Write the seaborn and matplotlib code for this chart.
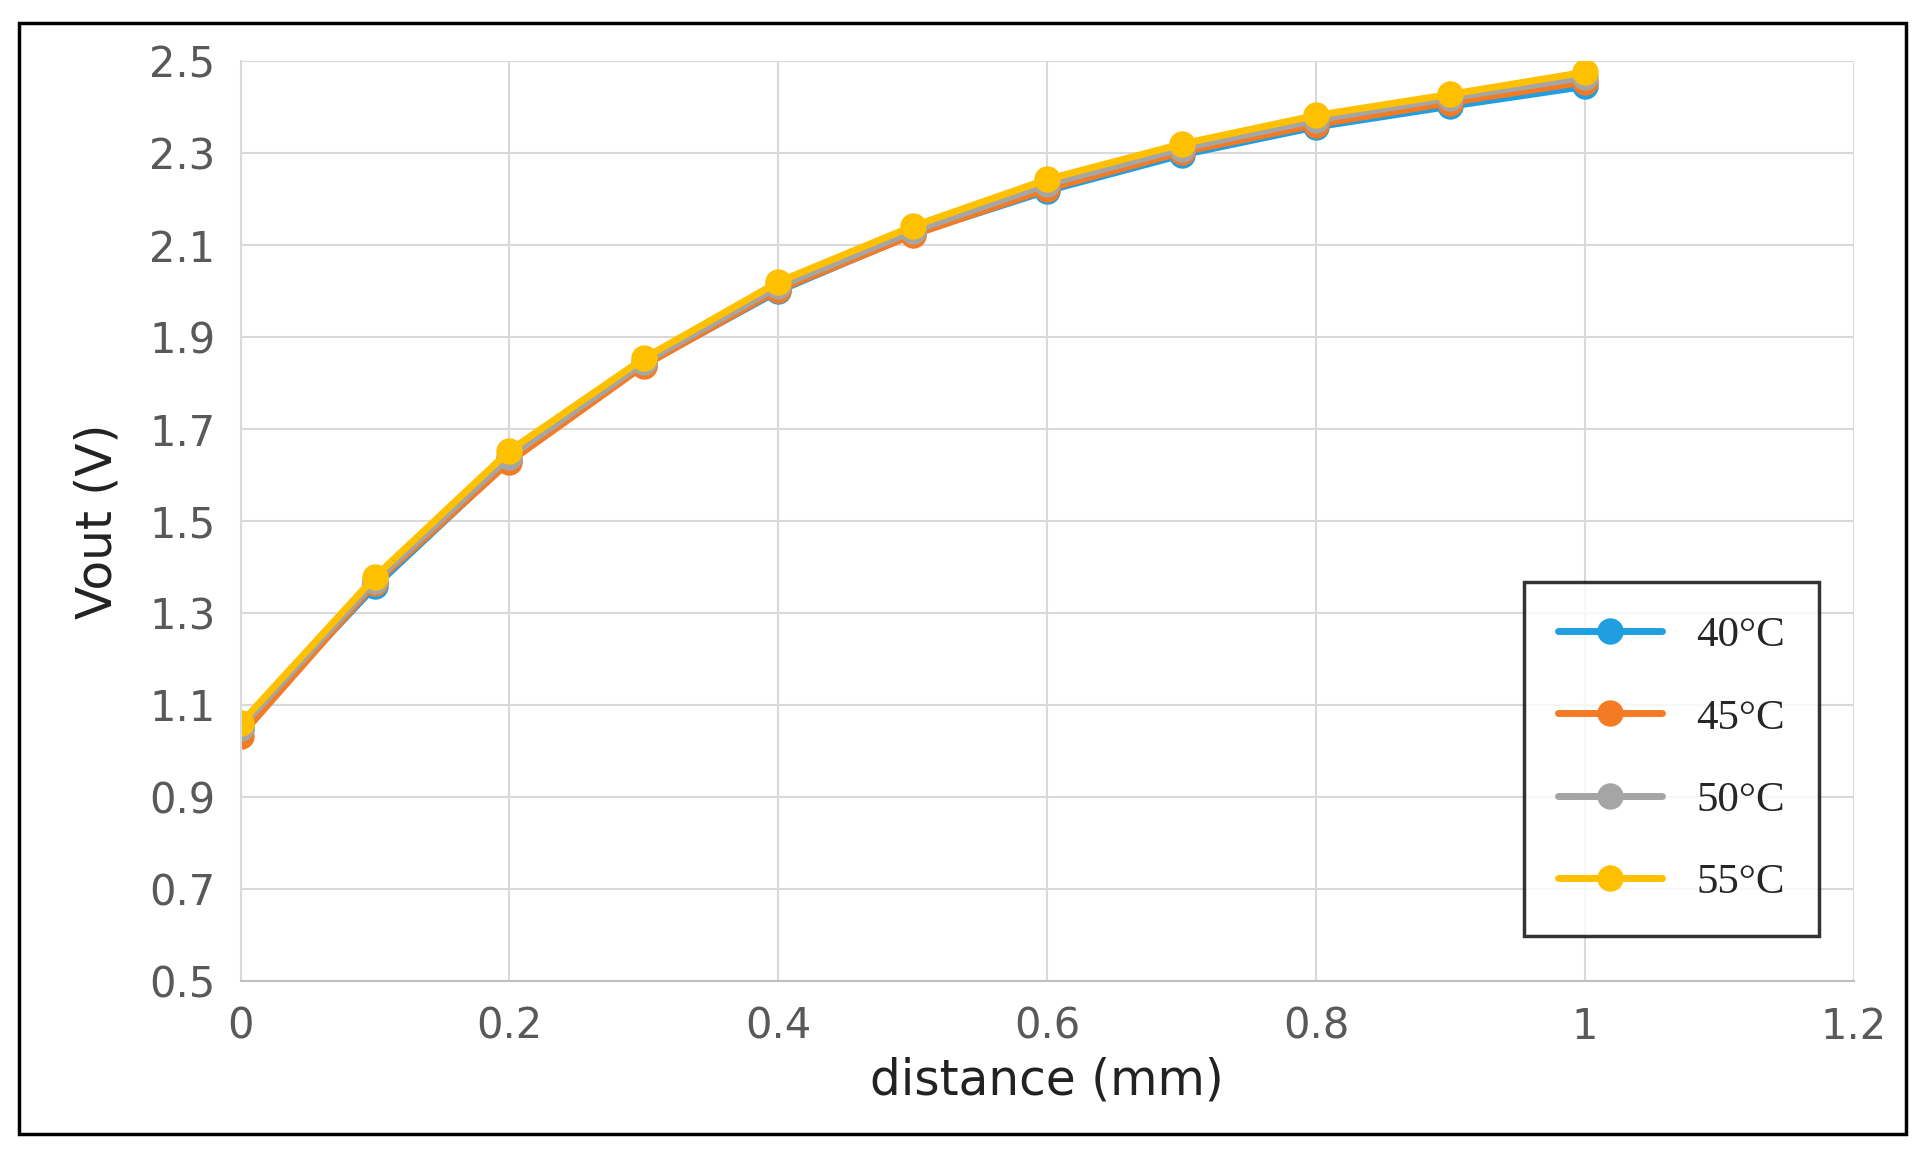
import matplotlib
matplotlib.use("Agg")
import matplotlib.pyplot as plt
import seaborn as sns
import pandas as pd
from matplotlib.patches import Rectangle

distance = [0, 0.1, 0.2, 0.3, 0.4, 0.5, 0.6, 0.7, 0.8, 0.9, 1.0]
v40 = [1.047, 1.358, 1.632, 1.840, 2.000, 2.124, 2.218, 2.296, 2.357, 2.402, 2.445]
v45 = [1.033, 1.365, 1.629, 1.838, 2.003, 2.122, 2.222, 2.302, 2.362, 2.410, 2.455]
v50 = [1.050, 1.370, 1.640, 1.845, 2.010, 2.130, 2.232, 2.310, 2.372, 2.420, 2.465]
v55 = [1.060, 1.379, 1.653, 1.854, 2.020, 2.141, 2.243, 2.320, 2.382, 2.428, 2.476]
labels = ["40°C", "45°C", "50°C", "55°C"]
colors = ["#1f9ee0", "#f47a24", "#a5a5a5", "#ffc000"]

rows = []
for lab, vals in zip(labels, [v40, v45, v50, v55]):
    for d, v in zip(distance, vals):
        rows.append({"distance": d, "Vout": v, "series": lab})
df = pd.DataFrame(rows)

sns.set_style("white")
fig = plt.figure(figsize=(19.25, 11.54), dpi=100)
ax = fig.add_axes([0.125, 0.150, 0.838, 0.797])
sns.lineplot(data=df, x="distance", y="Vout", hue="series", palette=colors,
             marker="o", markersize=19, markeredgewidth=0, linewidth=5, ax=ax)
ax.set_xlim(0, 1.2)
ax.set_ylim(0.5, 2.5)
ax.set_xticks([0, 0.2, 0.4, 0.6, 0.8, 1, 1.2])
ax.set_xticklabels(["0", "0.2", "0.4", "0.6", "0.8", "1", "1.2"])
ax.set_yticks([0.5 + 0.2 * i for i in range(11)])
ax.set_yticklabels([f"{0.5 + 0.2 * i:.1f}" for i in range(11)])
ax.grid(True, color="#d9d9d9", linewidth=1.5)
for s in ["top", "right"]:
    ax.spines[s].set_visible(False)
ax.spines["left"].set_color("#d9d9d9")
ax.spines["bottom"].set_color("#bfbfbf")
ax.spines["left"].set_linewidth(1.5)
ax.spines["bottom"].set_linewidth(1.5)
ax.tick_params(labelsize=30, colors="#595959", length=0, pad=18)
ax.set_xlabel("distance (mm)", fontsize=35, color="#222222", labelpad=6)
ax.set_ylabel("Vout (V)", fontsize=35, color="#222222", labelpad=20)

leg = ax.legend(loc="lower right", bbox_to_anchor=(0.992, 0.025), frameon=True,
                prop={"family": "Liberation Serif", "size": 31},
                handlelength=2.4, labelspacing=1.0, borderpad=0.8, fancybox=False)
leg.get_frame().set_edgecolor("black")
leg.get_frame().set_linewidth(2.5)

fig.patches.append(Rectangle((0.010, 0.017), 0.980, 0.963, transform=fig.transFigure,
                             fill=False, edgecolor="black", linewidth=2.5))
fig.savefig("out.png", dpi=100, facecolor="white")
